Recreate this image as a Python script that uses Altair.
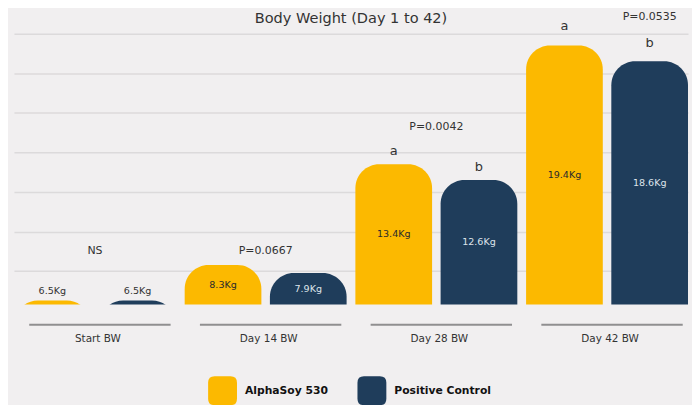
import altair as alt
import pandas as pd

categories = ["Start BW", "Day 14 BW", "Day 28 BW", "Day 42 BW"]
series = ["AlphaSoy 530", "Positive Control"]
alphasoy = [6.5, 8.3, 13.4, 19.4]
positive = [6.5, 7.9, 12.6, 18.6]
alphasoy_letters = ["", "", "a", "a"]
positive_letters = ["", "", "b", "b"]
p_labels = ["NS", "P=0.0667", "P=0.0042", "P=0.0535"]
p_levels = [9.0, 9.0, 15.3, 20.85]
p_anchor = ["group", "group", "group", "Positive Control"]
gridlines = [8, 10, 12, 14, 16, 18, 20]
y_min, y_max = 6.3, 21.0

GOLD = "#FCB900"
NAVY = "#1F3D5B"
FONT = "DejaVu Sans"

rows = []
for i, c in enumerate(categories):
    rows.append({"cat": c, "series": series[0], "v": alphasoy[i], "letter": alphasoy_letters[i]})
    rows.append({"cat": c, "series": series[1], "v": positive[i], "letter": positive_letters[i]})
df = pd.DataFrame(rows)
pdf = pd.DataFrame({"cat": categories, "p": p_labels, "lvl": p_levels, "anchor": p_anchor})
cdf = pd.DataFrame({"cat": categories})

xscale = alt.Scale(domain=categories, paddingInner=0.0514, paddingOuter=0)
yscale = alt.Scale(domain=[y_min, y_max], zero=False, nice=False)
offscale = alt.Scale(domain=series, paddingInner=0.1, paddingOuter=0)

rounded = ("M -0.55,-1 L 0.55,-1 Q 1,-1 1,-0.55 L 1,0.55 Q 1,1 0.55,1 "
           "L -0.55,1 Q -1,1 -1,0.55 L -1,-0.55 Q -1,-1 -0.55,-1 Z")

X = alt.X("cat:N", scale=xscale, sort=categories,
          axis=alt.Axis(title=None, domain=False, ticks=False, labelPadding=29,
                        labelOffset=3, labelFontSize=10.5, labelColor="#333333",
                        labelFont=FONT, labelAngle=0))
XO = alt.XOffset("series:N", scale=offscale, sort=series)

bars = alt.Chart(df).mark_bar(cornerRadiusTopLeft=24, cornerRadiusTopRight=24, clip=True).encode(
    x=X,
    xOffset=XO,
    y=alt.Y("v:Q", scale=yscale,
            axis=alt.Axis(title=None, labels=False, ticks=False, domain=False,
                          values=gridlines, grid=True, gridColor="#dcdadb", gridWidth=1.5)),
    y2=alt.datum(0),
    color=alt.Color("series:N", scale=alt.Scale(domain=series, range=[GOLD, NAVY]),
                    legend=alt.Legend(title=None, orient="none", legendX=195, legendY=364,
                                      direction="horizontal", symbolType=rounded,
                                      symbolSize=841, symbolStrokeWidth=0, symbolOpacity=1,
                                      labelFont=FONT, labelFontWeight="bold",
                                      labelFontSize=10.8, labelColor="#111111",
                                      labelOffset=8, columnPadding=29, padding=0)),
)

vals = alt.Chart(df).transform_calculate(
    ly=f"datum.v - {y_min} < 1 ? datum.v + 0.47 : (datum.v + {y_min}) / 2",
    lc=f"datum.v - {y_min} < 1 ? '#333333' : (datum.series == '{series[0]}' ? '#2b2b2b' : '#dde3ea')",
    lbl="format(datum.v, '.1f') + 'Kg'",
).mark_text(fontSize=9.6, font=FONT).encode(
    x=alt.X("cat:N", scale=xscale, sort=categories),
    xOffset=XO,
    y=alt.Y("ly:Q", scale=yscale),
    text="lbl:N",
    color=alt.Color("lc:N", scale=None),
)

letters = alt.Chart(df).transform_filter("datum.letter != ''").transform_calculate(
    ly="datum.v * 1.05"
).mark_text(fontSize=13, font=FONT, color="#333333").encode(
    x=alt.X("cat:N", scale=xscale, sort=categories),
    xOffset=XO,
    y=alt.Y("ly:Q", scale=yscale),
    text="letter:N",
)

p_center = alt.Chart(pdf).transform_filter("datum.anchor == 'group'").mark_text(
    fontSize=11, font=FONT, color="#333333").encode(
    x=alt.X("cat:N", scale=xscale, sort=categories),
    y=alt.Y("lvl:Q", scale=yscale),
    text="p:N",
)

p_bar = alt.Chart(pdf).transform_filter("datum.anchor != 'group'").mark_text(
    fontSize=11, font=FONT, color="#333333").encode(
    x=alt.X("cat:N", scale=xscale, sort=categories),
    xOffset=alt.XOffset("anchor:N", scale=offscale, sort=series),
    y=alt.Y("lvl:Q", scale=yscale),
    text="p:N",
)

segs = alt.Chart(cdf).mark_tick(orient="horizontal", size=142, thickness=2,
                                color="#666666", xOffset=5).encode(
    x=alt.X("cat:N", scale=xscale, sort=categories),
    y=alt.value(312.3),
)

chart = alt.layer(bars, vals, letters, p_center, p_bar, segs).resolve_scale(
    color="independent"
).properties(
    width=677,
    height=292,
    autosize="none",
    padding={"left": 6, "top": 5, "right": 4, "bottom": 100},
    background="#f1eff0",
    title=alt.Title("Body Weight (Day 1 to 42)", fontSize=14.6, font=FONT,
                    fontWeight="normal", color="#333333", anchor="middle", offset=-15),
).configure_view(stroke=None)

chart.save("out.html", embed_options={"renderer": "svg", "actions": False})
